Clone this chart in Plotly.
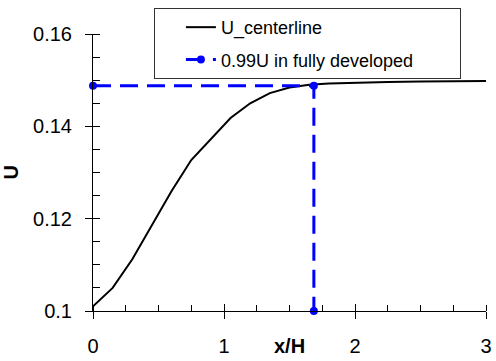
import plotly.graph_objects as go

# Data
x_center = [0, 0.15, 0.3, 0.45, 0.6, 0.75, 0.9, 1.05, 1.2, 1.35, 1.5, 1.65, 1.8, 2.0, 2.25, 2.5, 2.75, 3.0]
u_center = [0.1010, 0.1050, 0.1112, 0.1185, 0.1260, 0.1327, 0.1373, 0.1418, 0.1450, 0.1472, 0.1484, 0.1490,
            0.1493, 0.1495, 0.1496, 0.1497, 0.1497, 0.1498]
x_dev = [0, 1.686, 1.686]
u_dev = [0.1488, 0.1488, 0.1]

x_ticks = [0, 1, 2, 3]
y_ticks = [0.1, 0.12, 0.14, 0.16]

FONT = "Liberation Sans, Arial, sans-serif"
PAD = '<span style="color:white">____</span>'

fig = go.Figure()
fig.add_trace(go.Scatter(x=x_center, y=u_center, mode="lines", name="U_centerline",
                         line=dict(color="black", width=2), legendgroup="a"))
fig.add_trace(go.Scatter(x=x_dev, y=u_dev, mode="lines+markers", name="0.99U in fully developed" + PAD,
                         line=dict(color="#0000ff", width=3, dash="18px,9px"),
                         marker=dict(color="#0000ff", size=8), cliponaxis=False, legendgroup="b"))

axis_common = dict(showgrid=False, zeroline=False, color="black")

fig.update_layout(
    width=496, height=361,
    margin=dict(l=93, r=4, t=34, b=49),
    paper_bgcolor="white", plot_bgcolor="white",
    font=dict(family=FONT, size=20, color="black"),
    showlegend=True,
    legend=dict(x=0.155, y=1.094, xanchor="left", yanchor="top",
                bordercolor="#333333", borderwidth=1, bgcolor="white",
                font=dict(size=18), tracegroupgap=6, indentation=26),
    xaxis=dict(range=[0, 3], tickvals=x_ticks, ticks="outside", ticklen=7, tickwidth=1,
               showline=True, linecolor="black", linewidth=1, ticklabelstandoff=10,
               ticklabeloverflow="allow",
               minor=dict(dtick=0.25, ticks="inside", ticklen=6, tickcolor="black"),
               **axis_common),
    yaxis=dict(range=[0.1, 0.16], tickvals=y_ticks, ticks="outside", ticklen=7, tickwidth=1,
               showline=True, linecolor="black", linewidth=1, ticklabelstandoff=9,
               minor=dict(dtick=0.005, ticks="inside", ticklen=7, tickcolor="black"),
               **axis_common),
    xaxis2=dict(range=[0, 3], overlaying="x", anchor="y", side="bottom", tickvals=x_ticks,
                ticks="inside", ticklen=7, showticklabels=False, showline=False, **axis_common),
    yaxis2=dict(range=[0.1, 0.16], overlaying="y", anchor="x", side="left", tickvals=y_ticks,
                ticks="inside", ticklen=7, showticklabels=False, showline=False, **axis_common),
    annotations=[
        dict(text="<b>x/H</b>", xref="paper", yref="paper", x=0.5, y=0, yshift=-35,
             xanchor="center", yanchor="middle", showarrow=False, font=dict(size=20)),
        dict(text="<b>U</b>", xref="paper", yref="paper", x=0, y=0.5, xshift=-83,
             xanchor="center", yanchor="middle", textangle=-90, showarrow=False, font=dict(size=20)),
    ],
)
# dummy invisible trace so overlay axes render
fig.add_trace(go.Scatter(x=[None], y=[None], xaxis="x2", yaxis="y2", showlegend=False, hoverinfo="skip"))

fig.write_html("out.html")
